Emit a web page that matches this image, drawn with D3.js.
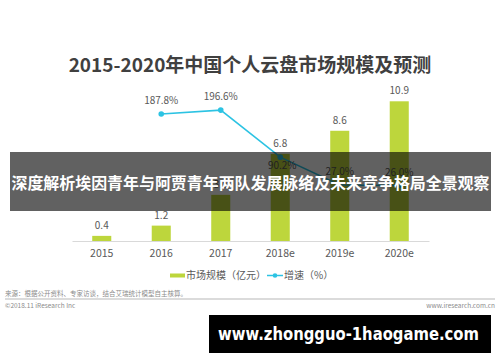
<!DOCTYPE html>
<html>
<head>
<meta charset="utf-8">
<script src="https://cdn.jsdelivr.net/npm/d3@7"></script>
<style>
  html, body { margin: 0; padding: 0; background: #fff; }
  svg { display: block; font-family: "Noto Sans CJK SC", "Noto Sans", sans-serif; }
</style>
</head>
<body>
<div id="chart"></div>
<script>
const years = ['2015', '2016', '2017', '2018e', '2019e', '2020e'];
const marketSize = [0.4, 1.2, 3.6, 6.8, 8.6, 10.9];   // 亿元
const growth = [null, 187.8, 196.6, 90.2, 27.0, 26.0]; // %

const TITLE = '2015-2020年中国个人云盘市场规模及预测';
const SOURCE = '来源：根据公开资料、专家访谈，结合艾瑞统计模型自主核算。';
const BANNER = '深度解析埃因青年与阿贾青年两队发展脉络及未来竞争格局全景观察';
const SITE = 'www.zhongguo-1haogame.com';

const width = 500, height = 362;
const barColor = '#bdd63c', lineColor = '#2cc3e3', textColor = '#595959';

const svg = d3.select('#chart').append('svg')
  .attr('width', width)
  .attr('height', height);

svg.append('text')
  .attr('x', 250).attr('y', 72)
  .attr('text-anchor', 'middle')
  .attr('font-size', 19).attr('font-weight', 700)
  .attr('fill', '#404040')
  .text(TITLE);

const x = d3.scaleBand().domain(years).range([72, 429])
  .paddingInner(0.68).paddingOuter(0.34);
const y = d3.scaleLinear().domain([0, 12]).range([241, 87.2]);
// axe secondaire pour la courbe de croissance (non affiché)
const y2 = d3.scaleLinear().domain([0, 200]).range([197, 108.6]);

// barres
svg.append('g').selectAll('rect')
  .data(marketSize)
  .join('rect')
  .attr('x', (d, i) => x(years[i]))
  .attr('y', d => y(d))
  .attr('width', x.bandwidth())
  .attr('height', d => y(0) - y(d))
  .attr('fill', barColor);

svg.append('g').selectAll('text')
  .data(marketSize)
  .join('text')
  .attr('x', (d, i) => x(years[i]) + x.bandwidth() / 2)
  .attr('y', d => y(d) - 7)
  .attr('text-anchor', 'middle')
  .attr('font-size', 10)
  .attr('fill', textColor)
  .text(d => d);

// axe X
const xAxis = svg.append('g')
  .attr('transform', `translate(0,${y(0)})`)
  .call(d3.axisBottom(x).tickSize(0).tickPadding(9));
xAxis.select('.domain').attr('stroke', '#d9d9d9').attr('stroke-width', 1.2);
xAxis.selectAll('text')
  .attr('font-size', 10.5)
  .attr('fill', textColor)
  .attr('font-family', '"Noto Sans CJK SC", sans-serif');

// courbe de croissance
const pts = growth.map((v, i) => ({ v, i })).filter(d => d.v != null);
const line = d3.line()
  .x(d => x(years[d.i]) + x.bandwidth() / 2)
  .y(d => y2(d.v));

svg.append('path')
  .datum(pts)
  .attr('d', line)
  .attr('fill', 'none')
  .attr('stroke', lineColor)
  .attr('stroke-width', 1.6);

svg.append('g').selectAll('circle')
  .data(pts)
  .join('circle')
  .attr('cx', d => x(years[d.i]) + x.bandwidth() / 2)
  .attr('cy', d => y2(d.v))
  .attr('r', 2.8)
  .attr('fill', lineColor);

// 2018e : étiquette sous le point pour éviter le libellé de la barre
svg.append('g').selectAll('text')
  .data(pts)
  .join('text')
  .attr('x', d => x(years[d.i]) + x.bandwidth() / 2 + (d.i === 3 ? 2 : 0))
  .attr('y', d => y2(d.v) + (d.i === 3 ? 12 : -10))
  .attr('text-anchor', 'middle')
  .attr('font-size', 10)
  .attr('fill', textColor)
  .text(d => d.v.toFixed(1) + '%');

// légende
const legend = svg.append('g').attr('font-size', 10).attr('fill', textColor);
legend.append('rect')
  .attr('x', 170).attr('y', 273.5).attr('width', 15).attr('height', 4)
  .attr('fill', barColor);
legend.append('text')
  .attr('x', 186).attr('y', 279)
  .attr('fill', textColor)
  .text('市场规模（亿元）');
legend.append('line')
  .attr('x1', 267).attr('x2', 283).attr('y1', 275.5).attr('y2', 275.5)
  .attr('stroke', lineColor).attr('stroke-width', 1.5);
legend.append('circle')
  .attr('cx', 275).attr('cy', 275.5).attr('r', 2.3)
  .attr('fill', lineColor);
legend.append('text')
  .attr('x', 284).attr('y', 279)
  .attr('fill', textColor)
  .text('增速（%）');

// pied de page
svg.append('text')
  .attr('x', 5).attr('y', 296)
  .attr('font-size', 6.5).attr('fill', '#8c8c8c')
  .text(SOURCE);
svg.append('line')
  .attr('x1', 5).attr('x2', 495).attr('y1', 299).attr('y2', 299)
  .attr('stroke', '#cfcfcf').attr('stroke-width', 1.5);
svg.append('text')
  .attr('x', 5).attr('y', 308)
  .attr('font-size', 6.5).attr('fill', '#8c8c8c')
  .text('©2018.11 iResearch Inc');
svg.append('text')
  .attr('x', 495).attr('y', 308)
  .attr('text-anchor', 'end')
  .attr('font-size', 6.5).attr('fill', '#8c8c8c')
  .text('www.iresearch.com.cn');

// bandeau superposé
svg.append('rect')
  .attr('x', 10).attr('y', 152).attr('width', 481).attr('height', 59)
  .attr('fill', 'rgba(0,0,0,0.62)');
svg.append('text')
  .attr('x', 250.5).attr('y', 189)
  .attr('text-anchor', 'middle')
  .attr('font-size', 16).attr('font-weight', 700)
  .attr('fill', '#fff')
  .attr('textLength', 478)
  .attr('lengthAdjust', 'spacingAndGlyphs')
  .text(BANNER);

// cartouche du site
svg.append('rect')
  .attr('x', 209).attr('y', 315).attr('width', 282).attr('height', 38)
  .attr('fill', '#000');
svg.append('text')
  .attr('x', 348.5).attr('y', 340)
  .attr('text-anchor', 'middle')
  .attr('font-family', '"DejaVu Sans", sans-serif')
  .attr('font-size', 17).attr('font-weight', 700)
  .attr('fill', '#fff')
  .attr('textLength', 261)
  .attr('lengthAdjust', 'spacingAndGlyphs')
  .text(SITE);
</script>
</body>
</html>
